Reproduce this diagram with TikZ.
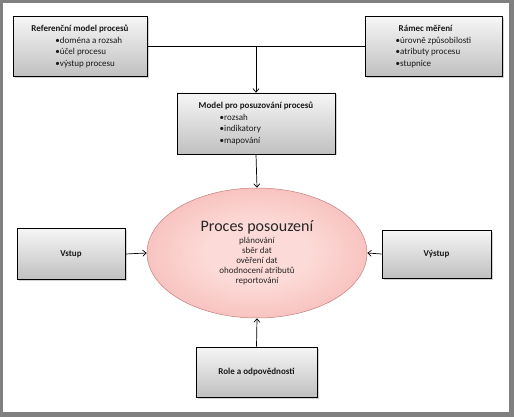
\documentclass[tikz,border=0pt]{standalone}
\usepackage{fontspec}
\setmainfont{Carlito}
\usetikzlibrary{arrows.meta,shapes.geometric,shadows}
\definecolor{framecol}{RGB}{128,128,128}
\definecolor{boxtop}  {RGB}{246,246,246}
\definecolor{boxbot}  {RGB}{192,192,192}
\definecolor{ellin}   {RGB}{252,218,215}
\definecolor{ellout}  {RGB}{240,152,148}
\definecolor{elldraw} {RGB}{196,128,126}
\pgfdeclareradialshading{procshade}{\pgfpoint{0bp}{0bp}}%
  {color(0bp)=(ellin); color(12bp)=(ellin); color(50bp)=(ellout)}
\newcommand{\bul}{{\small\textbullet}}

\begin{document}
\begin{tikzpicture}[x=1pt,y=-1pt,
  box/.style ={rectangle,draw=black,line width=0.6pt,
               top color=boxtop,bottom color=boxbot,inner sep=2pt,
               drop shadow={shadow xshift=1.5pt,shadow yshift=-1.5pt,opacity=0.35},
               font=\fontsize{9}{11.5}\selectfont,text=black!90},
  lbox/.style={box,align=left},
  proc/.style={ellipse,draw=elldraw,line width=0.5pt,shading=procshade,
               minimum width=220pt,minimum height=130pt,inner sep=0pt,
               align=center,font=\fontsize{9}{10.2}\selectfont,text=black!85},
  ln/.style  ={line width=0.7pt},
  arr/.style ={ln,-{Straight Barb[length=3.5pt,width=6pt]}}
]
% frame
\fill[framecol] (0,0) rectangle (514,417);
\fill[white] (3,3) rectangle (509,412);
\useasboundingbox (0,0) rectangle (514,417);

\node[lbox,minimum width=134pt,minimum height=60pt] (ref) at (80,46.5)
  {\textbf{Referenční model procesů}\\
   \hspace*{24pt}\bul doména a rozsah\\
   \hspace*{24pt}\bul účel procesu\\
   \hspace*{24pt}\bul výstup procesu};
\node[lbox,minimum width=137pt,minimum height=60pt] (ramec) at (433.5,46.5)
  {\hspace*{3pt}\textbf{Rámec měření}\\
   \bul úrovně způsobilosti\\
   \bul atributy procesu\\
   \bul stupnice};
\node[lbox,minimum width=158pt,minimum height=61pt] (model) at (256,123.5)
  {\textbf{Model pro posuzování procesů}\\
   \hspace*{21pt}\bul rozsah\\
   \hspace*{21pt}\bul indikatory\\
   \hspace*{21pt}\bul mapování};
\node[proc] (proc) at (257,253)
  {{\fontsize{16}{17}\selectfont Proces posouzení}\\[1.5pt]
   plánování\\ sběr dat\\ ověření dat\\ ohodnocení atributů\\ reportování};
\node[box,minimum width=108pt,minimum height=51pt] (vstup) at (71,254)
  {\textbf{Vstup}};
\node[box,minimum width=109pt,minimum height=48pt] (vystup) at (436.5,254)
  {\textbf{Výstup}};
\node[box,minimum width=121pt,minimum height=50pt] (role) at (256.5,372)
  {\textbf{Role a odpovědnosti}};

\coordinate (join) at (ref.east -| model.north);
\draw[ln]  (ref.east) -- (ramec.west);
\draw[arr] (join) -- (model.north);
\draw[arr] (model.south) -- (proc.north);
\draw[arr] (vstup.east) -- (proc.west);
\draw[arr] (vystup.west) -- (proc.east);
\draw[arr] (role.north) -- (proc.south);
\end{tikzpicture}
\end{document}
